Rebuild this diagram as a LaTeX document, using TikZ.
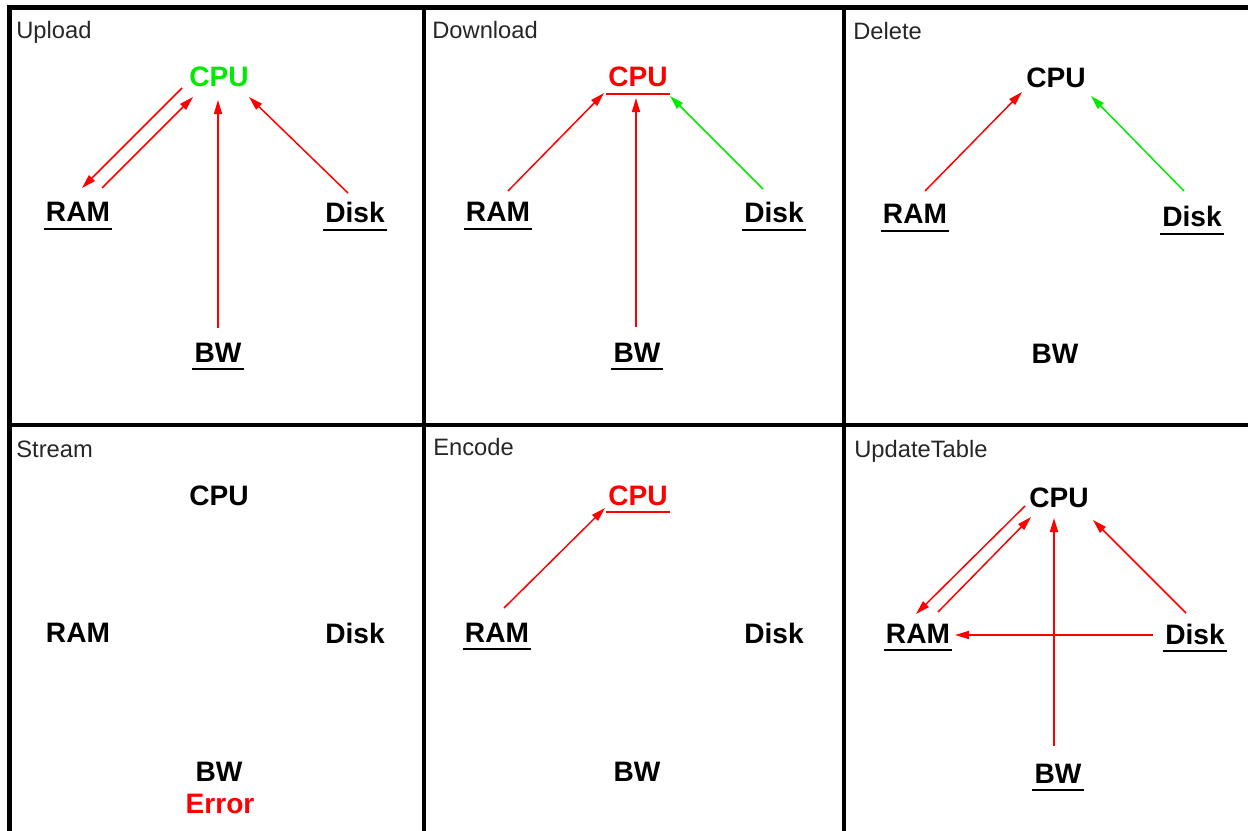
\documentclass[tikz,border=0pt]{standalone}
\usepackage{fontspec}
\setmainfont{Liberation Sans}
\usetikzlibrary{arrows.meta}
\definecolor{hitgreen}{RGB}{0,235,0}
\definecolor{hitred}{RGB}{255,0,0}

\begin{document}
\begin{tikzpicture}[x=0.02cm,y=-0.02cm,
    res/.style={font=\fontsize{16}{18}\selectfont\bfseries, anchor=base, inner xsep=1.2pt, inner ysep=4pt},
    optitle/.style={font=\fontsize{13.5}{16}\selectfont, anchor=base west, inner sep=0pt, text=black!85},
    ulined/.style={append after command={([yshift=-4pt]\tikzlastnode.base west) edge[line width=1.4pt,draw=#1] ([yshift=-4pt]\tikzlastnode.base east)}},
    ulined/.default=black,
    usage/.style={-{Triangle[length=8pt,width=4.6pt]}, line width=0.85pt, draw=#1},
    usage/.default=hitred]
    \useasboundingbox (0,0) rectangle (1248,831);

    % Draw the frame
    \draw[line width=2.8pt] (7,7.5) -- (1248,7.5);
    \draw[line width=2.8pt] (9.5,5) -- (9.5,831);
    \draw[line width=2.2pt] (424,5) -- (424,831);
    \draw[line width=2.2pt] (844,5) -- (844,831);
    \draw[line width=2pt] (9.5,425) -- (1248,425);

    % Upload
    \node[optitle] (uptitle) at (16,39) {Upload};
    \node[res,text=hitgreen] (upcpu) at (219,87) {CPU};
    \node[res,ulined] (upram) at (78,222) {RAM};
    \node[res,ulined] (updisk) at (355,223) {Disk};
    \node[res,ulined] (upbw) at (218,362) {BW};
    \draw[usage] ([shift={(-37,1)}]upcpu.base) -- ([shift={(4,-34)}]upram.base);
    \draw[usage] ([shift={(24,-34)}]upram.base) -- ([shift={(-26,10)}]upcpu.base);
    \draw[usage] ([shift={(0,-34)}]upbw.base) -- ([shift={(-1,13)}]upcpu.base);
    \draw[usage] ([shift={(-7,-30)}]updisk.base) -- ([shift={(30,10)}]upcpu.base);

    % Download
    \node[optitle] (dltitle) at (432,39) {Download};
    \node[res,text=hitred,ulined=hitred] (dlcpu) at (638,87) {CPU};
    \node[res,ulined] (dlram) at (498,222) {RAM};
    \node[res,ulined] (dldisk) at (774,223) {Disk};
    \node[res,ulined] (dlbw) at (637,362) {BW};
    \draw[usage] ([shift={(10,-31)}]dlram.base) -- ([shift={(-34,6)}]dlcpu.base);
    \draw[usage] ([shift={(-1,-35)}]dlbw.base) -- ([shift={(-2,11)}]dlcpu.base);
    \draw[usage=hitgreen] ([shift={(-11,-34)}]dldisk.base) -- ([shift={(32,9)}]dlcpu.base);

    % Delete
    \node[optitle] (deltitle) at (853,40) {Delete};
    \node[res] (delcpu) at (1056,88) {CPU};
    \node[res,ulined] (delram) at (915,224) {RAM};
    \node[res,ulined] (deldisk) at (1192,227) {Disk};
    \node[res] (delbw) at (1055,363) {BW};
    \draw[usage] ([shift={(10,-33)}]delram.base) -- ([shift={(-34,4)}]delcpu.base);
    \draw[usage=hitgreen] ([shift={(-8,-36)}]deldisk.base) -- ([shift={(35,8)}]delcpu.base);

    % Stream
    \node[optitle] (sttitle) at (16,457) {Stream};
    \node[res] (stcpu) at (219,505) {CPU};
    \node[res] (stram) at (78,642) {RAM};
    \node[res] (stdisk) at (355,643) {Disk};
    \node[res] (stbw) at (219,781) {BW};
    \node[res,text=hitred] (sterror) at (220,813) {Error};

    % Encode
    \node[optitle] (enctitle) at (433,455) {Encode};
    \node[res,text=hitred,ulined=hitred] (enccpu) at (638,505) {CPU};
    \node[res,ulined] (encram) at (497,642) {RAM};
    \node[res] (encdisk) at (774,643) {Disk};
    \node[res] (encbw) at (637,781) {BW};
    \draw[usage] ([shift={(7,-34)}]encram.base) -- ([shift={(-33,3)}]enccpu.base);

    % UpdateTable
    \node[optitle] (uttitle) at (854,457) {UpdateTable};
    \node[res] (utcpu) at (1059,507) {CPU};
    \node[res,ulined] (utram) at (918,643) {RAM};
    \node[res,ulined] (utdisk) at (1195,644) {Disk};
    \node[res,ulined] (utbw) at (1058,783) {BW};
    \draw[usage] ([shift={(-34,-1)}]utcpu.base) -- ([shift={(-2,-29)}]utram.base);
    \draw[usage] ([shift={(20,-31)}]utram.base) -- ([shift={(-28,10)}]utcpu.base);
    \draw[usage] ([shift={(-4,-37)}]utbw.base) -- ([shift={(-5,11)}]utcpu.base);
    \draw[usage] ([shift={(-9,-31)}]utdisk.base) -- ([shift={(34,13)}]utcpu.base);
    \draw[usage] ([shift={(-42,-9)}]utdisk.base) -- ([shift={(37,-8)}]utram.base);
\end{tikzpicture}
\end{document}
